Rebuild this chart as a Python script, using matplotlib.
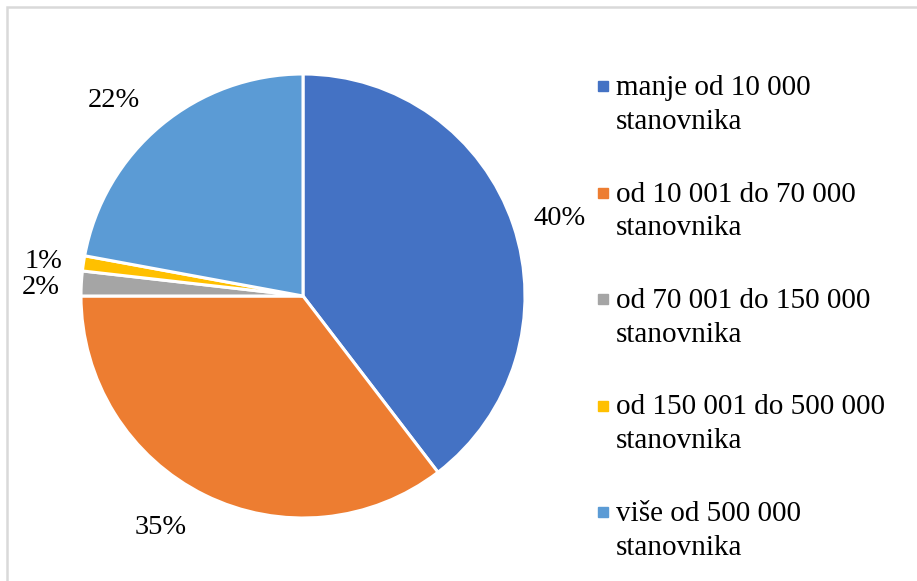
import matplotlib.pyplot as plt
from matplotlib.patches import Rectangle

plt.rcParams['font.family'] = ['Liberation Serif', 'DejaVu Serif']

labels = ["manje od 10 000\nstanovnika",
          "od 10 001 do 70 000\nstanovnika",
          "od 70 001 do 150 000\nstanovnika",
          "od 150 001 do 500 000\nstanovnika",
          "više od 500 000\nstanovnika"]
values = [39.6, 35.4, 1.8, 1.1, 22.1]
colors = ["#4472C4", "#ED7D31", "#A5A5A5", "#FFC000", "#5B9BD5"]

W, H = 917, 581
fig = plt.figure(figsize=(W / 100, H / 100), dpi=100)

# pie centre (303, 296) px, radius 222 px
cx, cy, r = 303, 296, 222
ax = fig.add_axes([(cx - r) / W, (H - cy - r) / H, 2 * r / W, 2 * r / H])
wedges, texts, autotexts = ax.pie(values, colors=colors, startangle=90, counterclock=False,
                                  autopct='%.0f%%', pctdistance=1.22,
                                  wedgeprops=dict(edgecolor='white', linewidth=2.2),
                                  textprops=dict(fontsize=20.5, color='black'))
ax.set_xlim(-1, 1)
ax.set_ylim(-1, 1)
ax.set_aspect('equal')

# manual nudges, like Excel's best-fit labels
autotexts[0].set_position((1.155, 0.35))
autotexts[1].set_position((-0.64, -1.045))
autotexts[2].set_position((-1.18, 0.04))
autotexts[3].set_position((-1.17, 0.155))
autotexts[4].set_position((-0.85, 0.88))

# legend drawn by hand: marker next to the first line
for i, (lab, c) in enumerate(zip(labels, colors)):
    y0 = H - (86 + i * 106.5)
    fig.patches.append(Rectangle((598 / W, (y0 - 5) / H), 10 / W, 10 / H,
                                 transform=fig.transFigure, color=c))
    fig.text(616 / W, (y0 + 11) / H, lab, fontsize=21, va='top', ha='left',
             linespacing=1.38)

# light frame (top and left edges)
fig.patches.append(Rectangle((7 / W, -0.1), 1.2, (H - 7) / H + 0.1,
                             transform=fig.transFigure, fill=False,
                             edgecolor='#d9d9d9', linewidth=1.8))

fig.savefig("out.png", dpi=100)
